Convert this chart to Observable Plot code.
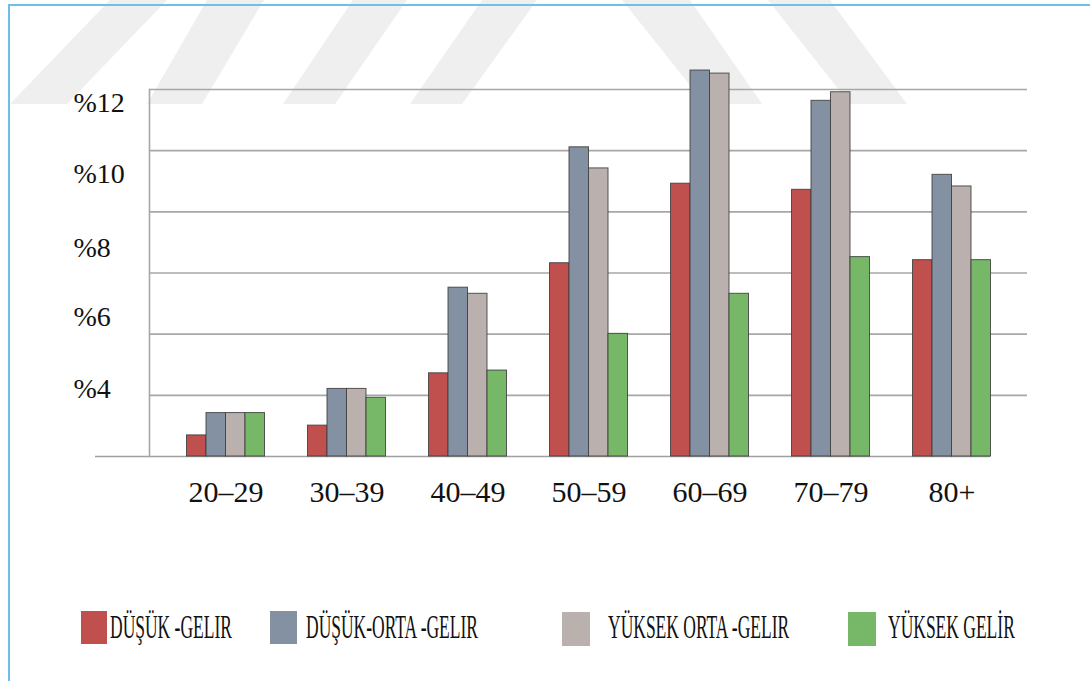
<!DOCTYPE html>
<html>
<head>
<meta charset="utf-8">
<script src="https://cdn.jsdelivr.net/npm/d3@7"></script>
<script src="https://cdn.jsdelivr.net/npm/@observablehq/plot@0.6"></script>
<style>
  html, body { margin: 0; padding: 0; background: #fff; }
  #page { position: relative; width: 1090px; height: 681px; overflow: hidden; background: #fff; font-family: "Liberation Serif", Tinos, "DejaVu Serif", serif; }
  #wm { position: absolute; left: 0; top: 0; }
  #border { position: absolute; left: 8px; top: 4px; right: -10px; bottom: -10px; border-top: 2px solid #6cc0ea; border-left: 2px solid #6cc0ea; }
  #chart { position: absolute; left: 0; top: 0; }
  #chart svg, #chart svg text { font-family: "Liberation Serif", Tinos, "DejaVu Serif", serif !important; }
  .sw { position: absolute; }
  .lt { position: absolute; font-family: "Liberation Serif", Tinos, "DejaVu Serif", serif; font-size: 33px; line-height: 33px; white-space: nowrap; color: #111; transform: scaleX(0.53); transform-origin: 0 0; }
</style>
</head>
<body>
<div id="page">
  <svg id="wm" width="1090" height="120">
    <g fill="#efefef">
      <polygon points="110,0 167,0 67,104 10,104"/>
      <polygon points="207,0 264,0 202,104 147,104"/>
      <polygon points="353,0 407,0 335,104 283,104"/>
      <polygon points="482,0 537,0 462,104 410,104"/>
      <polygon points="622,0 690,0 762,104 705,104"/>
      <polygon points="768,0 830,0 907,104 850,104"/>
    </g>
  </svg>
  <div id="border"></div>
  <div id="chart"></div>
  <div id="legend"></div>
</div>
<script>
// ---- data ----
const ages = ["20–29", "30–39", "40–49", "50–59", "60–69", "70–79", "80+"];
const seriesNames = ["DÜŞÜK -GELIR", "DÜŞÜK-ORTA -GELIR", "YÜKSEK ORTA -GELIR", "YÜKSEK GELİR"];
const dusukGelir      = [0.69, 1.01, 2.72, 6.32, 8.92, 8.72, 6.42];
const dusukOrtaGelir  = [1.42, 2.21, 5.52, 10.11, 12.62, 11.63, 9.21];
const yuksekOrtaGelir = [1.42, 2.21, 5.32, 9.42, 12.52, 11.91, 8.83];
const yuksekGelir     = [1.42, 1.92, 2.81, 4.01, 5.32, 6.52, 6.42];
const seriesColors = ["#c0504d", "#8491a3", "#bab1ae", "#77b768"];
const gridValues = [0, 2, 4, 6, 8, 10, 12];
const yTickLabels = ["%4", "%6", "%8", "%10", "%12"];
const yTickLabelAt = [2.22, 4.55, 6.83, 9.22, 11.57];

// ---- table ----
const seriesValues = [dusukGelir, dusukOrtaGelir, yuksekOrtaGelir, yuksekGelir];
const table = seriesNames.map((name, s) =>
  ages.map((age, i) => ({age, series: name, value: seriesValues[s][i]})));

const step = 121, groupPad = 21.5, barW = 19.5;
const serif = "Liberation Serif, Tinos, DejaVu Serif, serif";

const marks = [
  Plot.ruleY(gridValues.filter(d => d > 0), {stroke: "#a7a7a7", strokeWidth: 1.6}),
  Plot.ruleY([0], {stroke: "#a0a0a0", strokeWidth: 1.6, insetLeft: -54, insetRight: 37}),
  Plot.frame({anchor: "left", stroke: "#a7a7a7", strokeWidth: 1.6}),
  ...table.map((rows, s) => Plot.barY(rows, {
    x: "age", y: "value",
    fill: seriesColors[s],
    stroke: "#3c3c3c", strokeOpacity: 0.85, strokeWidth: 1,
    insetLeft: groupPad + barW * s,
    insetRight: step - groupPad - barW * (s + 1)
  })),
  Plot.text(yTickLabels, {
    y: (d, i) => yTickLabelAt[i], text: d => d,
    frameAnchor: "left", dx: -76, textAnchor: "start",
    fontSize: 28, fontFamily: serif, fill: "#111", lineAnchor: "middle"
  }),
  Plot.text(ages, {
    x: d => d, text: d => d,
    frameAnchor: "bottom", dy: 36, lineAnchor: "middle",
    fontSize: 30, fontFamily: serif, fill: "#111"
  })
];

const chart = Plot.plot({
  width: 1090,
  height: 560,
  marginLeft: 149,
  marginRight: 63,
  marginTop: 89,
  marginBottom: 104,
  style: {background: "none", overflow: "visible"},
  x: {type: "band", domain: ages, paddingInner: 0, paddingOuter: 0.128, axis: null},
  y: {domain: [0, 12], axis: null},
  marks
});
document.getElementById("chart").appendChild(chart);

// ---- legend ----
const legend = document.getElementById("legend");
const swatchPos = [[81, 611, 26, 33], [270, 611, 27, 33], [562, 612, 28, 34], [848, 612, 28, 34]];
const textLeft = [110, 306, 608, 888];
seriesNames.forEach((name, s) => {
  const sw = document.createElement("div");
  sw.className = "sw";
  const [l, t, w, h] = swatchPos[s];
  Object.assign(sw.style, {left: l + "px", top: t + "px", width: w + "px", height: h + "px", background: seriesColors[s]});
  legend.appendChild(sw);
  const tx = document.createElement("div");
  tx.className = "lt";
  tx.textContent = name;
  Object.assign(tx.style, {left: textLeft[s] + "px", top: "611px"});
  legend.appendChild(tx);
});
</script>
</body>
</html>
